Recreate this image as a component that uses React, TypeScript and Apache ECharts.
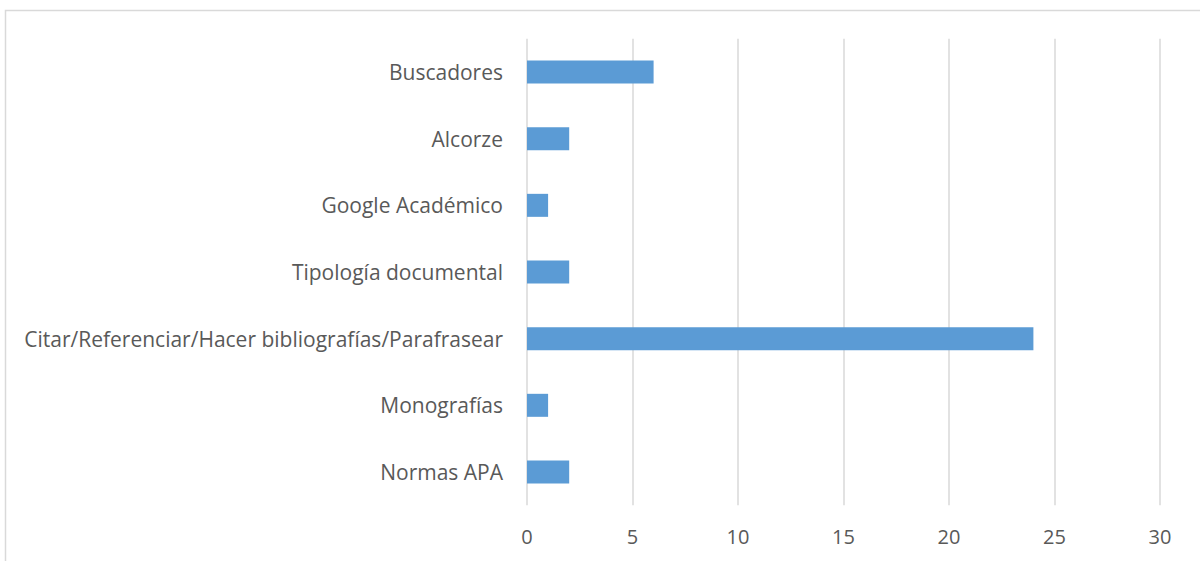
import React, { useEffect, useRef } from "react";
import * as echarts from "echarts";

const categories = [
  "Normas APA",
  "Monografías",
  "Citar/Referenciar/Hacer bibliografías/Parafrasear",
  "Tipología documental",
  "Google Académico",
  "Alcorze",
  "Buscadores",
];
const values = [2, 1, 24, 2, 1, 2, 6];
const xTicks = [0, 5, 10, 15, 20, 25, 30];

export default function App() {
  const ref = useRef<HTMLDivElement>(null);
  useEffect(() => {
    if (!ref.current) return;
    const chart = echarts.init(ref.current, null, { renderer: "svg" });
    const font = "Open Sans, Liberation Sans, sans-serif";
    chart.setOption({
      animation: false,
      backgroundColor: "#ffffff",
      graphic: [
        {
          type: "rect",
          shape: { x: 5.5, y: 10.5, width: 1300, height: 700 },
          style: { fill: "none", stroke: "#d9d9d9", lineWidth: 1.5 },
          silent: true,
        },
      ],
      grid: { left: 527, right: 40, top: 38.7, bottom: 55.7, containLabel: false },
      xAxis: {
        type: "value",
        min: xTicks[0],
        max: xTicks[xTicks.length - 1],
        interval: 5,
        axisLine: { show: false },
        axisTick: { show: false },
        splitLine: { show: true, lineStyle: { color: "#d9d9d9", width: 1.5 } },
        axisLabel: { color: "#595959", fontSize: 20, fontFamily: font, margin: 21 },
      },
      yAxis: {
        type: "category",
        data: categories,
        axisLine: { show: false },
        axisTick: { show: false },
        splitLine: { show: false },
        axisLabel: { color: "#595959", fontSize: 21, fontFamily: font, margin: 24 },
      },
      series: [
        {
          type: "bar",
          data: values,
          barWidth: 23,
          itemStyle: { color: "#5b9bd5" },
        },
      ],
    });
    return () => chart.dispose();
  }, []);
  return <div ref={ref} style={{ position: "fixed", left: 0, top: 0, width: 1200, height: 561 }} />;
}
